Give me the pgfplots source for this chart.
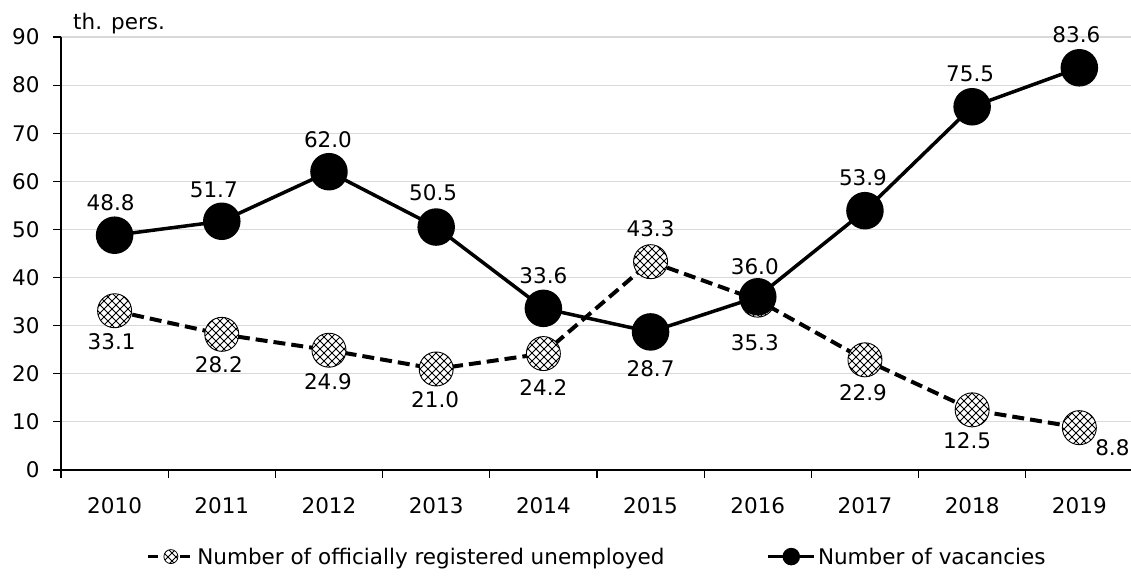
\documentclass[border=0pt]{standalone}
\usepackage{fontspec}
\setmainfont{DejaVu Sans}
\usepackage{pgfplots}
\usepackage{pgfplotstable}
\pgfplotsset{compat=1.18}
\usetikzlibrary{patterns}

% diagonal cross hatch used inside the unemployed markers
\pgfdeclarepatternformonly{diagcross}{\pgfqpoint{-1pt}{-1pt}}{\pgfqpoint{9pt}{9pt}}{\pgfqpoint{8pt}{8pt}}{%
  \pgfsetlinewidth{0.75pt}%
  \pgfpathmoveto{\pgfqpoint{0pt}{0pt}}\pgfpathlineto{\pgfqpoint{8pt}{8pt}}%
  \pgfpathmoveto{\pgfqpoint{0pt}{8pt}}\pgfpathlineto{\pgfqpoint{8pt}{0pt}}%
  \pgfusepath{stroke}}

\pgfdeclareplotmark{hatchcirc}{%
  \pgfpathcircle{\pgfpointorigin}{\pgfplotmarksize}%
  \pgfsetfillcolor{white}\pgfusepathqfill
  \pgfpathcircle{\pgfpointorigin}{\pgfplotmarksize}%
  \pgfsetfillpattern{diagcross}{black}%
  \pgfusepathqfillstroke}

% x = year index (0 = 2010), label text, label offset in pt
\pgfplotstableread{
x y    lbl  dx  dy
0 33.1 33.1 -3 -31
1 28.2 28.2 -3 -30
2 24.9 24.9 -1 -31
3 21.0 21.0 -1 -31
4 24.2 24.2  0 -34
5 43.3 43.3  0  33
6 35.3 35.3 -3 -43
7 22.9 22.9 -2 -33
8 12.5 12.5 -5 -31
9 8.8  8.8  33 -20
}\unemp

\pgfplotstableread{
x y    lbl  dx  dy
0 48.8 48.8 -4  33
1 51.7 51.7 -8  31
2 62.0 62.0 -1  32
3 50.5 50.5 -3  34
4 33.6 33.6  0  33
5 28.7 28.7  0 -37
6 36.0 36.0 -3  30
7 53.9 53.9 -2  33
8 75.5 75.5 -2  33
9 83.6 83.6 -3  33
}\vacan

\begin{document}
\begin{tikzpicture}[font=\fontsize{21.5}{26}\selectfont]
\begin{axis}[
  scale only axis,
  width=1072pt, height=433pt,
  xmin=-0.5, xmax=9.5,
  ymin=0, ymax=90,
  clip=false,
  axis lines*=left,
  x axis line style={line width=1.5pt},
  y axis line style={line width=1.2pt},
  xtick={-0.5,0.5,...,9.5},
  xticklabels={},
  extra x ticks={0,...,9},
  extra x tick labels={2010,2011,2012,2013,2014,2015,2016,2017,2018,2019},
  extra x tick style={major tick length=0pt, grid=none},
  ytick={0,10,...,90},
  ymajorgrids,
  grid style={draw=gray!30, line width=1.2pt},
  tick align=outside,
  major tick length=8pt,
  tick style={black, line width=1.2pt},
  /pgf/number format/assume math mode=true,
  xticklabel style={yshift=-24pt},
  yticklabel style={xshift=-10pt},
  legend style={at={(0.5,-0.2)}, anchor=center, draw=none,
    /tikz/every even column/.append style={column sep=100pt}},
  legend columns=2,
  legend image code/.code={%
    \draw[mark repeat=2,mark phase=2,#1] plot coordinates {(0pt,0pt) (23pt,0pt) (46pt,0pt)};},
]

\addlegendimage{black, line width=3pt, dash pattern=on 10pt off 6pt, mark=hatchcirc, mark size=7pt, mark options={solid, line width=0.8pt}}
\addlegendentry{Number of officially registered unemployed}
\addlegendimage{black, line width=3.5pt, mark=*, mark size=7pt, mark options={solid}}
\addlegendentry{Number of vacancies}

\addplot[black, line width=4pt, dash pattern=on 12pt off 6pt,
  mark=hatchcirc, mark size=17pt, mark options={solid, line width=0.9pt},
  forget plot,
  nodes near coords, point meta=explicit symbolic,
  visualization depends on={\thisrow{dx}\as\dx},
  visualization depends on={\thisrow{dy}\as\dy},
  every node near coord/.append style={anchor=center, xshift=\dx pt, yshift=\dy pt, black}]
  table[x=x, y=y, meta=lbl] {\unemp};

\addplot[black, line width=3.5pt,
  mark=*, mark size=17pt, mark options={solid},
  forget plot,
  nodes near coords, point meta=explicit symbolic,
  visualization depends on={\thisrow{dx}\as\dx},
  visualization depends on={\thisrow{dy}\as\dy},
  every node near coord/.append style={anchor=center, xshift=\dx pt, yshift=\dy pt, black}]
  table[x=x, y=y, meta=lbl] {\vacan};

\node[anchor=base west, inner sep=0pt, xshift=12pt, yshift=7pt] at (rel axis cs:0,1) {th. pers.};
\end{axis}
\pgfresetboundingbox
\useasboundingbox (-61pt,-111pt) rectangle (1070pt,470pt);
\end{tikzpicture}
\end{document}
